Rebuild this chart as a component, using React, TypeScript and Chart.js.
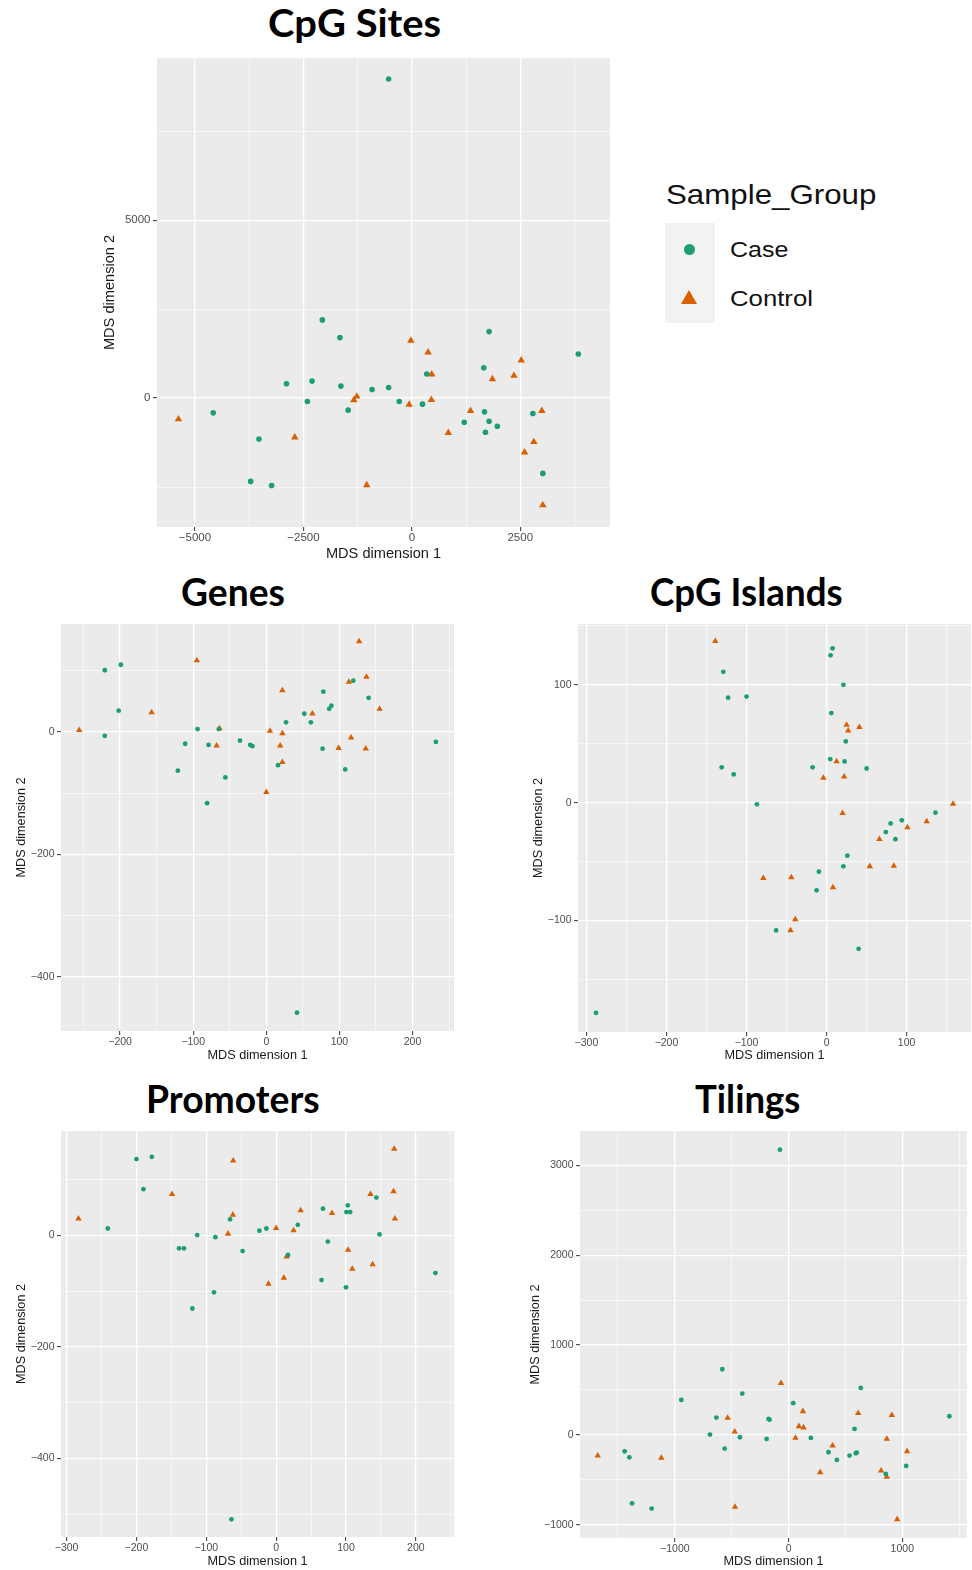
import React, { useEffect, useLayoutEffect, useRef } from "react";
import { Chart, registerables } from "chart.js";

Chart.register(...registerables);

type Pt = [number, number];

const CASE_COLOR = "#1B9E77";
const CONTROL_COLOR = "#D95F02";
const SANS = '"Liberation Sans", Arial, Helvetica, sans-serif';
const TITLE_FONT = 'Lato, "Open Sans", sans-serif';

const seriesNames = ["Case", "Control"];
const xAxisLabel = "MDS dimension 1";
const yAxisLabel = "MDS dimension 2";
const legendTitle = "Sample_Group";

// ---------- CpG Sites ----------
const sitesCase: Pt[] = [
  [-535, 8968], [-2064, 2199], [-1659, 1701], [1781, 1870], [3838, 1241], [1659, 855],
  [344, 677], [-2890, 404], [-2301, 479], [-1636, 338], [-917, 244], [-535, 301],
  [-2408, -94], [-1468, -338], [-291, -94], [245, -169], [-4580, -414], [-3525, -1147],
  [1675, -385], [1781, -648], [1208, -677], [1697, -959], [1972, -789], [2791, -432],
  [3020, -2115], [-3716, -2340], [-3234, -2453],
];
const sitesControl: Pt[] = [
  [-23, 1617], [375, 1288], [459, 667], [2523, 1062], [1858, 536], [2355, 630],
  [-1338, -56], [-1269, 47], [-61, -179], [451, -47], [-5382, -592], [-2699, -1100],
  [1353, -357], [2997, -357], [841, -977], [2813, -1231], [2599, -1523], [-1040, -2444],
  [3020, -3008],
];
const sitesXMajor = [-5000, -2500, 0, 2500];
const sitesXMinor = [-3750, -1250, 1250, 3750];
const sitesYMajor = [0, 5000];
const sitesYMinor = [-2500, 2500, 7500];

// ---------- Genes ----------
const genesCase: Pt[] = [
  [-221, 101], [-199, 110], [-202, 35], [-221, -6], [-94, 5], [-111, -19], [-121, -63],
  [-79, -21], [-81, -116], [-56, -74], [-36, -14], [-22, -21], [-19, -23], [16, -54],
  [27, 16], [52, 30], [61, 16], [78, 66], [86, 38], [89, 43], [77, -27], [108, -61],
  [119, 84], [140, 56], [232, -16], [42, -458], [-65, 5],
];
const genesControl: Pt[] = [
  [-256, 3], [-157, 32], [-95, 117], [-64, 6], [-68, -22], [5, 2], [22, 68], [22, -2],
  [19, -22], [22, -49], [0, -98], [63, 30], [99, -26], [113, 82], [116, -9], [127, 148],
  [137, 90], [136, -27], [155, 38],
];
const genesXMajor = [-200, -100, 0, 100, 200];
const genesXMinor = [-250, -150, -50, 50, 150, 250];
const genesYMajor = [-400, -200, 0];
const genesYMinor = [-300, -100, 100];

// ---------- CpG Islands ----------
const islandsCase: Pt[] = [
  [7.5, 131], [5, 125], [-129, 111], [-123, 89], [-100, 90], [21, 100], [6, 76], [24, 52],
  [4.6, 37], [22.5, 35], [-17.5, 30], [50, 29], [-131, 30], [-116, 24], [-87, -1.4],
  [136, -8.5], [94, -15], [80, -17.6], [74, -25], [86, -31], [26, -45], [21, -54],
  [-9.6, -58.6], [-12.5, -74.4], [-63, -108.4], [40, -124], [-288, -178.4],
];
const islandsControl: Pt[] = [
  [-139, 137], [25, 66], [27, 61], [41, 64], [12.5, 35], [-4, 21], [22, 22], [20, -9],
  [158, -1], [125, -16], [101, -21], [66, -31], [54, -54], [84, -53.6], [-79, -64],
  [-44, -63.4], [8, -72], [-39, -99], [-45, -108.4],
];
const islandsXMajor = [-300, -200, -100, 0, 100];
const islandsXMinor = [-250, -150, -50, 50, 150];
const islandsYMajor = [-100, 0, 100];
const islandsYMinor = [-150, -50, 50, 150];

// ---------- Promoters ----------
const promotersCase: Pt[] = [
  [-200, 137], [-178, 141], [-190, 83], [-241, 12.5], [-113, 0.6], [-139, -23], [-132, -23],
  [-87, -3], [-120, -131], [-89, -102], [-66, 29], [-48, -28], [-24, 8.4], [-14, 12.5],
  [17, -35], [31, 19], [67, 48], [74, -11], [65, -80], [102.5, 54], [100.6, 42], [106, 42],
  [100, -93], [143.5, 68], [148, 1.8], [228, -67.5], [-64, -509],
];
const promotersControl: Pt[] = [
  [-283, 30], [-149, 74], [-61.5, 134], [-62, 37], [-69, 3], [0, 13], [25, 9], [35, 45],
  [15, -38], [-11, -87], [11, -76], [80, 40], [103, -26], [109, -60], [135, 74], [138, -52],
  [169, 155], [168, 79], [170, 30],
];
const promotersXMajor = [-300, -200, -100, 0, 100, 200];
const promotersXMinor = [-250, -150, -50, 50, 150, 250];
const promotersYMajor = [-400, -200, 0];
const promotersYMinor = [-500, -300, -100, 100];

// ---------- Tilings ----------
const tilingsCase: Pt[] = [
  [-76, 3174], [-583, 731], [-407, 460], [-943, 390], [635, 523], [41, 353], [-635, 193],
  [-176, 178], [-167, 170], [1414, 208], [-691, 4], [-428, -26], [-193, -45], [196, -33],
  [580, 67], [-562, -152], [-1441, -182], [-1400, -249], [351, -193], [425, -278],
  [536, -230], [591, -204], [600, -196], [1034, -345], [855, -434], [-1376, -761],
  [-1204, -820],
];
const tilingsControl: Pt[] = [
  [-67, 575], [-536, 189], [126, 263], [91, 96], [132, 82], [-474, 37], [61, -33],
  [612, 241], [908, 219], [387, -119], [864, -45], [1042, -182], [-1678, -230],
  [-1119, -256], [278, -416], [814, -397], [864, -468], [-471, -801], [955, -939],
];
const tilingsXMajor = [-1000, 0, 1000];
const tilingsXMinor = [-1500, -500, 500, 1500];
const tilingsYMajor = [-1000, 0, 1000, 2000, 3000];
const tilingsYMinor = [-500, 500, 1500, 2500];

interface PanelSpec {
  caseData: Pt[];
  controlData: Pt[];
  xRange: [number, number];
  yRange: [number, number];
  xMajor: number[];
  xMinor: number[];
  yMajor: number[];
  yMinor: number[];
  box: { l: number; t: number; r: number; b: number };
  yW: number;
  xH: number;
  yTitleX: number;
  xTitleY: number;
  tickSize: number;
  titleSize: number;
  dotR: number;
  triR: number;
}

const panels: PanelSpec[] = [
  {
    caseData: sitesCase, controlData: sitesControl,
    xRange: [-5876, 4569], yRange: [-3621, 9558],
    xMajor: sitesXMajor, xMinor: sitesXMinor, yMajor: sitesYMajor, yMinor: sitesYMinor,
    box: { l: 157, t: 58, r: 610, b: 527 }, yW: 62, xH: 36,
    yTitleX: 110, xTitleY: 553.5, tickSize: 11.5, titleSize: 14.6, dotR: 2.8, triR: 4.3,
  },
  {
    caseData: genesCase, controlData: genesControl,
    xRange: [-280.9, 256.8], yRange: [-488, 176.5],
    xMajor: genesXMajor, xMinor: genesXMinor, yMajor: genesYMajor, yMinor: genesYMinor,
    box: { l: 61, t: 624, r: 454, b: 1031 }, yW: 55, xH: 34,
    yTitleX: 21.7, xTitleY: 1055.7, tickSize: 10.5, titleSize: 12.7, dotR: 2.4, triR: 3.7,
  },
  {
    caseData: islandsCase, controlData: islandsControl,
    xRange: [-310.5, 180.4], yRange: [-194.6, 151.6],
    xMajor: islandsXMajor, xMinor: islandsXMinor, yMajor: islandsYMajor, yMinor: islandsYMinor,
    box: { l: 578, t: 624, r: 971, b: 1032 }, yW: 50, xH: 34,
    yTitleX: 538, xTitleY: 1055, tickSize: 10.5, titleSize: 12.7, dotR: 2.4, triR: 3.7,
  },
  {
    caseData: promotersCase, controlData: promotersControl,
    xRange: [-308, 254.6], yRange: [-540.7, 187.3],
    xMajor: promotersXMajor, xMinor: promotersXMinor, yMajor: promotersYMajor, yMinor: promotersYMinor,
    box: { l: 61, t: 1131, r: 454, b: 1537 }, yW: 55, xH: 33,
    yTitleX: 21.7, xTitleY: 1561.7, tickSize: 10.5, titleSize: 12.7, dotR: 2.4, triR: 3.7,
  },
  {
    caseData: tilingsCase, controlData: tilingsControl,
    xRange: [-1834, 1569], yRange: [-1147, 3382],
    xMajor: tilingsXMajor, xMinor: tilingsXMinor, yMajor: tilingsYMajor, yMinor: tilingsYMinor,
    box: { l: 580, t: 1131, r: 967, b: 1538 }, yW: 60, xH: 32,
    yTitleX: 535, xTitleY: 1561.7, tickSize: 10.5, titleSize: 12.7, dotR: 2.4, triR: 3.7,
  },
];

const panelTitles = [
  { text: "CpG Sites", cx: 354.5, baseline: 38, width: 173 },
  { text: "Genes", cx: 233, baseline: 607, width: 104 },
  { text: "CpG Islands", cx: 746.5, baseline: 607, width: 193 },
  { text: "Promoters", cx: 233, baseline: 1114, width: 174 },
  { text: "Tilings", cx: 747.5, baseline: 1114, width: 105 },
];

const fmt = (v: number) => (v < 0 ? "\u2212" + Math.abs(v) : String(v));

const bgPlugin = {
  id: "panelBg",
  beforeDraw(chart: any) {
    const { ctx, chartArea } = chart;
    ctx.save();
    ctx.fillStyle = "#EBEBEB";
    ctx.fillRect(chartArea.left, chartArea.top, chartArea.right - chartArea.left, chartArea.bottom - chartArea.top);
    ctx.restore();
  },
};

function ScatterPanel({ spec }: { spec: PanelSpec }) {
  const ref = useRef<HTMLCanvasElement>(null);
  const { box, yW, xH } = spec;
  const left = box.l - yW;
  const top = box.t;
  const width = box.r - box.l + yW;
  const height = box.b - box.t + xH;

  useEffect(() => {
    const canvas = ref.current;
    if (!canvas) return;
    const inRange = (r: [number, number]) => (v: number) => v >= r[0] && v <= r[1];
    const xTicks = [...spec.xMajor, ...spec.xMinor].filter(inRange(spec.xRange)).sort((a, b) => a - b);
    const yTicks = [...spec.yMajor, ...spec.yMinor].filter(inRange(spec.yRange)).sort((a, b) => a - b);
    const yTitlePad = spec.yTitleX - left - spec.titleSize / 2;
    const xTitlePad = top + height - spec.xTitleY - spec.titleSize / 2;

    const axis = (major: number[], ticks: number[], range: [number, number], isX: boolean) => ({
      type: "linear" as const,
      position: isX ? ("bottom" as const) : ("left" as const),
      min: range[0],
      max: range[1],
      afterBuildTicks: (s: any) => {
        s.ticks = ticks.map((v) => ({ value: v }));
      },
      afterFit: (s: any) => {
        if (isX) s.height = xH;
        else s.width = yW;
        s.paddingTop = 0;
        s.paddingBottom = 0;
        s.paddingLeft = 0;
        s.paddingRight = 0;
      },
      ticks: {
        callback: (v: any) => (major.includes(Number(v)) ? fmt(Number(v)) : ""),
        autoSkip: false,
        maxRotation: 0,
        minRotation: 0,
        padding: isX ? 1.5 : 2.5,
        color: "#4D4D4D",
        font: { family: SANS, size: spec.tickSize, lineHeight: 1 },
      },
      grid: {
        color: "#FFFFFF",
        lineWidth: (c: any) => (major.includes(c.tick?.value) ? 1.3 : 0.6),
        tickColor: (c: any) => (major.includes(c.tick?.value) ? "#333333" : "rgba(0,0,0,0)"),
        tickWidth: (c: any) => (major.includes(c.tick?.value) ? 1 : 0),
        tickLength: 4,
        drawTicks: true,
      },
      border: { display: false },
      title: {
        display: true,
        text: isX ? xAxisLabel : yAxisLabel,
        color: "#1A1A1A",
        font: { family: SANS, size: spec.titleSize, lineHeight: 1 },
        padding: isX ? { top: 0, bottom: xTitlePad } : { top: yTitlePad, bottom: 0 },
      },
    });

    const chart = new Chart(canvas, {
      type: "scatter",
      data: {
        datasets: [
          {
            label: seriesNames[0],
            data: spec.caseData.map(([x, y]) => ({ x, y })),
            pointStyle: "circle",
            pointRadius: spec.dotR,
            backgroundColor: CASE_COLOR,
            borderColor: CASE_COLOR,
            borderWidth: 0,
          },
          {
            label: seriesNames[1],
            data: spec.controlData.map(([x, y]) => ({ x, y })),
            pointStyle: "triangle",
            pointRadius: spec.triR,
            backgroundColor: CONTROL_COLOR,
            borderColor: CONTROL_COLOR,
            borderWidth: 0,
          },
        ],
      },
      options: {
        animation: false,
        responsive: false,
        devicePixelRatio: 1,
        events: [],
        layout: { padding: 0, autoPadding: false },
        plugins: { legend: { display: false }, tooltip: { enabled: false } },
        scales: {
          x: axis(spec.xMajor, xTicks, spec.xRange, true) as any,
          y: axis(spec.yMajor, yTicks, spec.yRange, false) as any,
        },
      },
      plugins: [bgPlugin],
    });
    return () => chart.destroy();
  }, []);

  return (
    <canvas
      ref={ref}
      width={width}
      height={height}
      style={{ position: "absolute", left, top, width, height, display: "block" }}
    />
  );
}

function Txt(props: {
  text: string;
  x: number;
  baseline: number;
  size: number;
  width: number;
  family: string;
  weight?: number | string;
  color?: string;
  ascent: number;
  center?: boolean;
}) {
  const ref = useRef<HTMLSpanElement>(null);
  useLayoutEffect(() => {
    const el = ref.current;
    if (!el) return;
    const w = el.offsetWidth;
    if (w > 0) el.style.transform = `scaleX(${props.width / w})`;
  }, []);
  const left = props.center ? props.x - props.width / 2 : props.x;
  return (
    <span
      ref={ref}
      style={{
        position: "absolute",
        left,
        top: props.baseline - props.ascent * props.size,
        fontSize: props.size,
        lineHeight: `${props.size}px`,
        fontFamily: props.family,
        fontWeight: props.weight ?? "normal",
        color: props.color ?? "#000",
        whiteSpace: "nowrap",
        display: "inline-block",
        transformOrigin: "left top",
      }}
    >
      {props.text}
    </span>
  );
}

function Legend() {
  return (
    <>
      <Txt text={legendTitle} x={666} baseline={205} size={28} width={210} family={SANS} ascent={0.8465} color="#111" />
      <div style={{ position: "absolute", left: 665, top: 223, width: 50, height: 100, background: "#F2F2F2" }} />
      <div
        style={{
          position: "absolute",
          left: 689.3 - 5.5,
          top: 249 - 5.5,
          width: 11,
          height: 11,
          borderRadius: "50%",
          background: CASE_COLOR,
        }}
      />
      <div
        style={{
          position: "absolute",
          left: 689.3 - 8,
          top: 297.5 - 8,
          width: 0,
          height: 0,
          borderLeft: "8px solid transparent",
          borderRight: "8px solid transparent",
          borderBottom: `14px solid ${CONTROL_COLOR}`,
        }}
      />
      <Txt text={seriesNames[0]} x={730} baseline={257.5} size={22} width={58} family={SANS} ascent={0.8465} color="#111" />
      <Txt text={seriesNames[1]} x={730} baseline={306.5} size={22} width={83} family={SANS} ascent={0.8465} color="#111" />
    </>
  );
}

export default function App() {
  return (
    <div
      style={{
        position: "absolute",
        left: 0,
        top: 0,
        width: 972,
        height: 1570,
        background: "#FFFFFF",
        overflow: "hidden",
      }}
    >
      {panels.map((p, i) => (
        <ScatterPanel key={i} spec={p} />
      ))}
      {panelTitles.map((t, i) => (
        <Txt
          key={i}
          text={t.text}
          x={t.cx}
          baseline={t.baseline}
          size={39}
          width={t.width}
          family={TITLE_FONT}
          weight={700}
          ascent={0.887}
          center
        />
      ))}
      <Legend />
    </div>
  );
}
